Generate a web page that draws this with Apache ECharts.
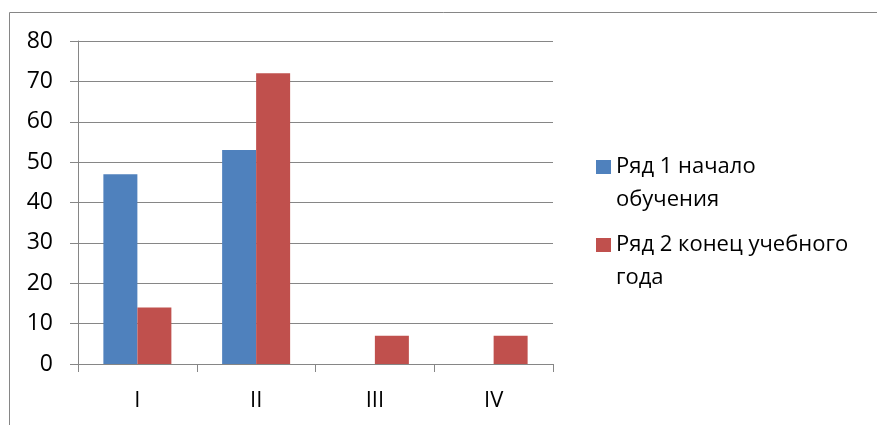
<!DOCTYPE html>
<html>
<head>
<meta charset="utf-8">
<script src="https://cdn.jsdelivr.net/npm/echarts@6/dist/echarts.min.js"></script>
<style>
html,body{margin:0;padding:0;background:#fff;}
#chart{width:877px;height:425px;}
</style>
</head>
<body>
<div id="chart"></div>
<script>
const categories = ['I', 'II', 'III', 'IV'];
const seriesNames = ['Ряд 1 начало обучения', 'Ряд 2 конец учебного года'];
const legendLines = [['Ряд 1 начало', 'обучения'], ['Ряд 2 конец учебного', 'года']];
const series1 = [47, 53, 0, 0];
const series2 = [14, 72, 7, 7];
const yTicks = { min: 0, max: 80, interval: 10 };

const FONT = 'Open Sans';
const FS = 22;
const GRAY = '#868686';

const chart = echarts.init(document.getElementById('chart'), null, { renderer: 'canvas' });

function legendFor(i, top) {
  return {
    data: [seriesNames[i]],
    orient: 'vertical',
    left: 596,
    top: top,
    padding: 0,
    itemWidth: 15,
    itemHeight: 14,
    icon: 'rect',
    selectedMode: false,
    formatter: function () { return '\n' + legendLines[i].join('\n'); },
    textStyle: {
      fontFamily: FONT,
      fontSize: FS,
      color: '#000',
      lineHeight: 33
    }
  };
}

chart.setOption({
  animation: false,
  backgroundColor: '#fff',
  textStyle: { fontFamily: FONT },
  graphic: [{
    type: 'rect',
    silent: true,
    shape: { x: 9.5, y: 12.5, width: 900, height: 500 },
    style: { fill: 'none', stroke: GRAY, lineWidth: 1 }
  }],
  legend: [legendFor(0, 117.5), legendFor(1, 195.5)],
  grid: { left: 78, top: 41, width: 475, height: 323, containLabel: false },
  xAxis: {
    type: 'category',
    data: categories,
    axisLine: { show: true, lineStyle: { color: GRAY, width: 1 } },
    axisTick: { show: true, length: 8, alignWithLabel: false, lineStyle: { color: GRAY } },
    axisLabel: { fontFamily: FONT, fontSize: FS, color: '#000', margin: 26 },
    splitLine: { show: false }
  },
  yAxis: {
    type: 'value',
    min: yTicks.min,
    max: yTicks.max,
    interval: yTicks.interval,
    axisLine: { show: true, lineStyle: { color: GRAY, width: 1 } },
    axisTick: { show: true, length: 8, lineStyle: { color: GRAY } },
    axisLabel: { fontFamily: FONT, fontSize: 23, color: '#000', margin: 25 },
    splitLine: { show: true, lineStyle: { color: GRAY, width: 1 } }
  },
  series: [
    {
      name: seriesNames[0],
      type: 'bar',
      data: series1,
      barWidth: 34,
      barGap: '0%',
      itemStyle: { color: '#4F81BD' }
    },
    {
      name: seriesNames[1],
      type: 'bar',
      data: series2,
      barWidth: 34,
      barGap: '0%',
      itemStyle: { color: '#C0504D' }
    }
  ]
});
</script>
</body>
</html>
